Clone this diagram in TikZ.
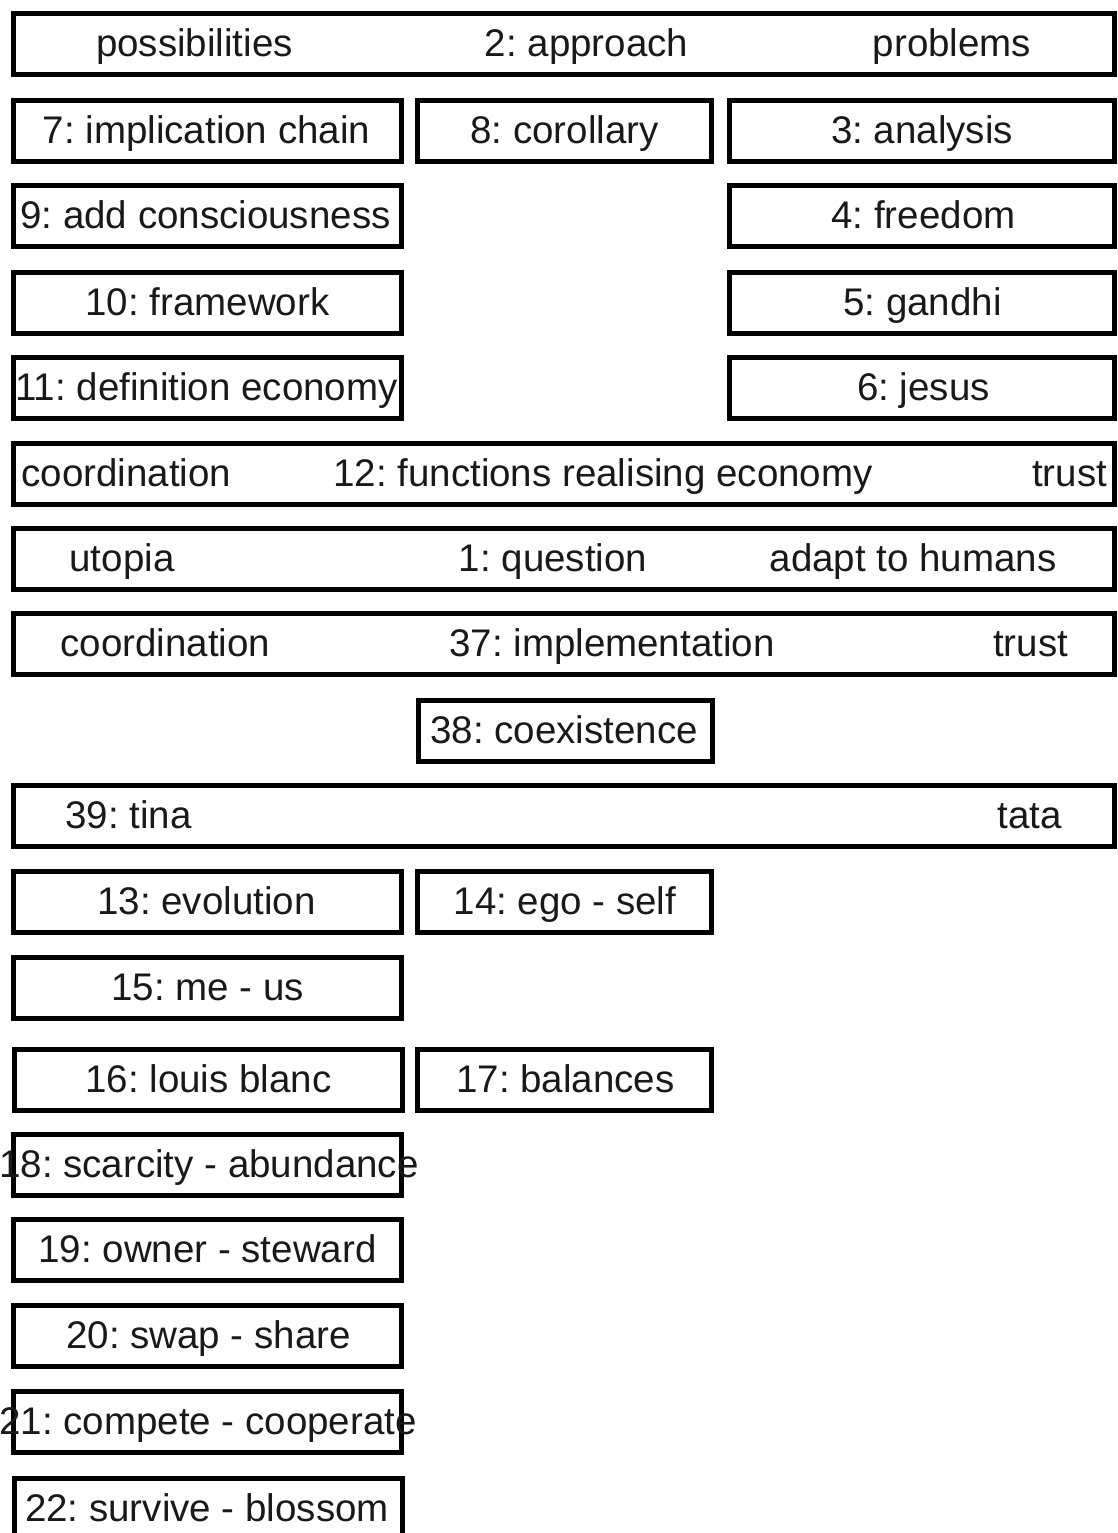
\documentclass[tikz,border=0pt]{standalone}
\usepackage{fontspec}
\setmainfont{Liberation Sans}
\frenchspacing
\begin{document}
\begin{tikzpicture}[x=1pt,y=-1pt,
  box/.style={draw=black,line width=5pt,rectangle,inner sep=0pt,minimum height=61pt},
  lcol/.style={box,minimum width=388pt},
  mcol/.style={box,minimum width=294pt},
  rcol/.style={box,minimum width=384.5pt},
  fcol/.style={box,minimum width=1101pt},
  lbl/.style={anchor=base,inner sep=0pt,font=\fontsize{38.5}{46}\selectfont\frenchspacing,text=black!90}]
\useasboundingbox (0,0) rectangle (1117,1533);
% row 1
\node[fcol] (b2) at (563.5,44) {};
\node[lbl] (t2a) at (194.5,56.5) {possibilities};
\node[lbl] (t2) at (586.5,56.5) {2: approach};
\node[lbl] (t2b) at (952,56.5) {problems};
% row 2
\node[lcol] (b7) at (207,131) {};
\node[lbl] (t7) at (206.5,143.5) {7: implication chain};
\node[mcol] (b8) at (564.5,131) {};
\node[lbl] (t8) at (564.5,143.5) {8: corollary};
\node[rcol] (b3) at (921.75,131) {};
\node[lbl] (t3) at (922,143.5) {3: analysis};
% row 3
\node[lcol] (b9) at (207,216) {};
\node[lbl] (t9) at (205.5,228.5) {9: add consciousness};
\node[rcol] (b4) at (921.75,216) {};
\node[lbl] (t4) at (923.5,228.5) {4: freedom};
% row 4
\node[lcol] (b10) at (207,303) {};
\node[lbl] (t10) at (207.5,315.5) {10: framework};
\node[rcol] (b5) at (921.75,303) {};
\node[lbl] (t5) at (922.5,315.5) {5: gandhi};
% row 5
\node[lcol] (b11) at (207,388) {};
\node[lbl] (t11) at (206.5,400.5) {11: definition economy};
\node[rcol] (b6) at (921.75,388) {};
\node[lbl] (t6) at (923.5,400.5) {6: jesus};
% row 6
\node[fcol] (b12) at (563.5,474) {};
\node[lbl] (t12a) at (126.5,486.5) {coordination};
\node[lbl] (t12) at (603,486.5) {12: functions realising economy};
\node[lbl] (t12b) at (1069.5,486.5) {trust};
% row 7
\node[fcol] (b1) at (563.5,559) {};
\node[lbl] (t1a) at (122,571.5) {utopia};
\node[lbl] (t1) at (553,571.5) {1: question};
\node[lbl] (t1b) at (913,571.5) {adapt to humans};
% row 8
\node[fcol] (b37) at (563.5,644) {};
\node[lbl] (t37a) at (165.5,656.5) {coordination};
\node[lbl] (t37) at (612,656.5) {37: implementation};
\node[lbl] (t37b) at (1030.5,656.5) {trust};
% row 9
\node[mcol] (b38) at (565,731) {};
\node[lbl] (t38) at (564,743.5) {38: coexistence};
% row 10
\node[fcol] (b39) at (563.5,816) {};
\node[lbl] (t39) at (128.5,828.5) {39: tina};
\node[lbl] (t39b) at (1029.5,828.5) {tata};
% row 11
\node[lcol] (b13) at (207,902) {};
\node[lbl] (t13) at (206.5,914.5) {13: evolution};
\node[mcol] (b14) at (564.5,902) {};
\node[lbl] (t14) at (565,914.5) {14: ego - self};
% row 12
\node[lcol] (b15) at (207,988) {};
\node[lbl] (t15) at (207.5,1000.5) {15: me - us};
% row 13
\node[lcol] (b16) at (208,1080) {};
\node[lbl] (t16) at (208.5,1092.5) {16: louis blanc};
\node[mcol] (b17) at (564.5,1080) {};
\node[lbl] (t17) at (565.5,1092.5) {17: balances};
% row 14
\node[lcol] (b18) at (207,1165) {};
\node[lbl] (t18) at (209,1177.5) {18: scarcity - abundance};
% row 15
\node[lcol] (b19) at (207,1250) {};
\node[lbl] (t19) at (207.5,1262.5) {19: owner - steward};
% row 16
\node[lcol] (b20) at (207.5,1336) {};
\node[lbl] (t20) at (208.5,1348.5) {20: swap - share};
% row 17
\node[lcol] (b21) at (207.5,1421.5) {};
\node[lbl] (t21) at (208,1434) {21: compete - cooperate};
% row 18
\node[lcol] (b22) at (208.75,1508.5) {};
\node[lbl] (t22) at (207,1521) {22: survive - blossom};
\end{tikzpicture}
\end{document}
